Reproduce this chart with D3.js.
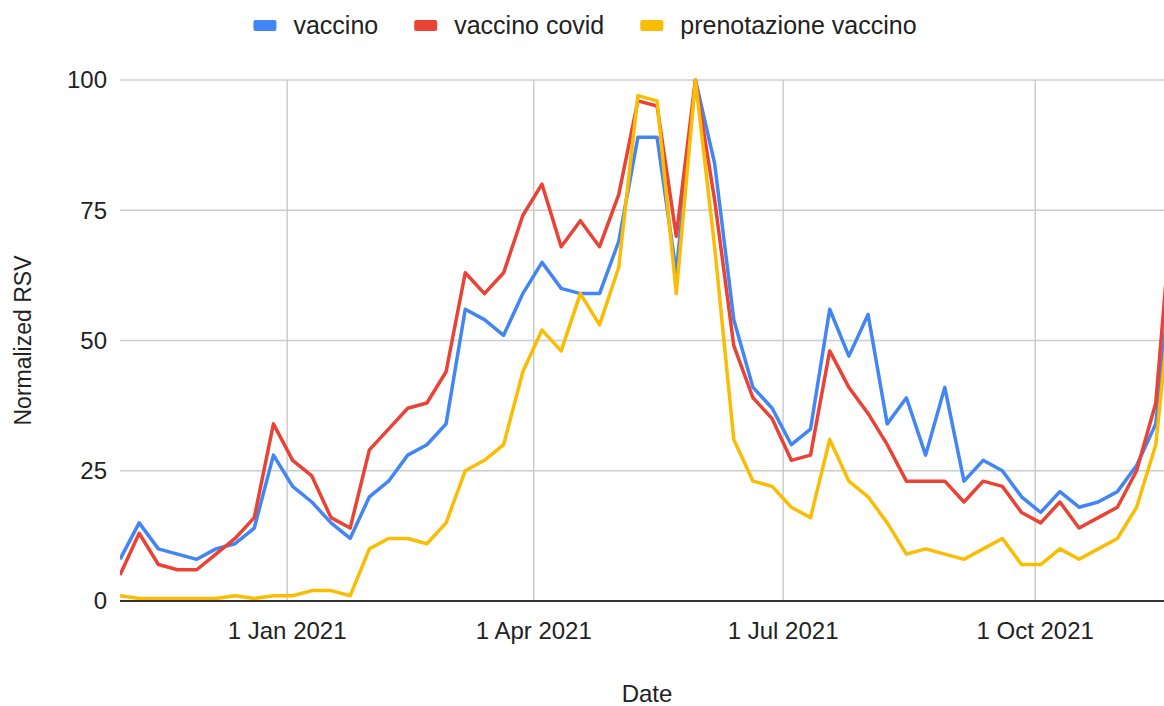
<!DOCTYPE html>
<html>
<head>
<meta charset="utf-8">
<script src="https://cdn.jsdelivr.net/npm/d3@7"></script>
<style>
  body { margin: 0; background: #fff; }
  svg { display: block; font-family: "Liberation Sans", Arial, sans-serif; }
</style>
</head>
<body>
<div id="chart"></div>
<script>
// weekly Google Trends series, first week starting 1 Nov 2020
var startWeek = "2020-11-01";

var vaccino = [8, 15, 10, 9, 8, 10, 11, 14, 28, 22, 19, 15, 12, 20, 23, 28, 30, 34, 56, 54,
  51, 59, 65, 60, 59, 59, 69, 89, 89, 63, 100, 84, 54, 41, 37, 30, 33, 56, 47, 55,
  34, 39, 28, 41, 23, 27, 25, 20, 17, 21, 18, 19, 21, 26, 34, 70];

var vaccinoCovid = [5, 13, 7, 6, 6, 9, 12, 16, 34, 27, 24, 16, 14, 29, 33, 37, 38, 44, 63, 59,
  63, 74, 80, 68, 73, 68, 78, 96, 95, 70, 100, 77, 49, 39, 35, 27, 28, 48, 41, 36,
  30, 23, 23, 23, 19, 23, 22, 17, 15, 19, 14, 16, 18, 25, 38, 82];

var prenotazione = [1, 0.5, 0.5, 0.5, 0.5, 0.5, 1, 0.5, 1, 1, 2, 2, 1, 10, 12, 12, 11, 15, 25, 27,
  30, 44, 52, 48, 59, 53, 64, 97, 96, 59, 100, 68, 31, 23, 22, 18, 16, 31, 23, 20,
  15, 9, 10, 9, 8, 10, 12, 7, 7, 10, 8, 10, 12, 18, 30, 66];

var seriesNames = ["vaccino", "vaccino covid", "prenotazione vaccino"];
var seriesColors = ["#4285f4", "#ea4335", "#fbbc04"];

var xTickDates = ["2021-01-01", "2021-04-01", "2021-07-01", "2021-10-01"];
var xTickLabels = ["1 Jan 2021", "1 Apr 2021", "1 Jul 2021", "1 Oct 2021"];
var yTicks = [0, 25, 50, 75, 100];

var w = 1164, h = 706;
var margin = { top: 80, right: 0, bottom: 105, left: 120 };

var parse = d3.utcParse("%Y-%m-%d");
var start = parse(startWeek);
var dates = vaccino.map(function(d, i) { return d3.utcDay.offset(start, 7 * i); });

var x = d3.scaleUtc()
  .domain([start, parse("2021-11-17")])
  .range([margin.left, w - margin.right]);

var y = d3.scaleLinear()
  .domain([0, 100])
  .range([h - margin.bottom, margin.top]);

var svg = d3.select("#chart").append("svg")
  .attr("width", w)
  .attr("height", h);

svg.append("clipPath").attr("id", "plot-clip")
  .append("rect")
  .attr("x", margin.left).attr("y", 0)
  .attr("width", w - margin.left - margin.right).attr("height", h);

// horizontal gridlines
svg.append("g")
  .selectAll("line")
  .data(yTicks.filter(function(d) { return d > 0; }))
  .enter().append("line")
  .attr("x1", margin.left).attr("x2", w - margin.right)
  .attr("y1", function(d) { return y(d); })
  .attr("y2", function(d) { return y(d); })
  .attr("stroke", "#cccccc")
  .attr("stroke-width", 1.5);

// vertical gridlines
svg.append("g")
  .selectAll("line")
  .data(xTickDates)
  .enter().append("line")
  .attr("x1", function(d) { return x(parse(d)); })
  .attr("x2", function(d) { return x(parse(d)); })
  .attr("y1", y(100)).attr("y2", y(0))
  .attr("stroke", "#cccccc")
  .attr("stroke-width", 1.5);

// y tick labels
svg.append("g")
  .selectAll("text")
  .data(yTicks)
  .enter().append("text")
  .attr("x", margin.left - 13)
  .attr("y", function(d) { return y(d); })
  .attr("dy", "0.35em")
  .attr("text-anchor", "end")
  .attr("font-size", 24)
  .attr("fill", "#222")
  .text(function(d) { return d; });

// x tick labels
svg.append("g")
  .selectAll("text")
  .data(xTickDates)
  .enter().append("text")
  .attr("x", function(d) { return x(parse(d)); })
  .attr("y", y(0) + 38)
  .attr("text-anchor", "middle")
  .attr("font-size", 24)
  .attr("fill", "#222")
  .text(function(d, i) { return xTickLabels[i]; });

// lines
var line = d3.line()
  .x(function(d, i) { return x(dates[i]); })
  .y(function(d) { return y(d); });

var plot = svg.append("g").attr("clip-path", "url(#plot-clip)");
[vaccino, vaccinoCovid, prenotazione].forEach(function(values, k) {
  plot.append("path")
    .datum(values)
    .attr("d", line)
    .attr("fill", "none")
    .attr("stroke", seriesColors[k])
    .attr("stroke-width", 3.5)
    .attr("stroke-linejoin", "round");
});

// baseline
svg.append("line")
  .attr("x1", margin.left).attr("x2", w - margin.right)
  .attr("y1", y(0)).attr("y2", y(0))
  .attr("stroke", "#333")
  .attr("stroke-width", 2);

// axis titles
svg.append("text")
  .attr("x", 647)
  .attr("y", 702)
  .attr("text-anchor", "middle")
  .attr("font-size", 24)
  .attr("fill", "#222")
  .text("Date");

svg.append("text")
  .attr("transform", "translate(31," + y(50) + ") rotate(-90)")
  .attr("text-anchor", "middle")
  .attr("font-size", 23)
  .attr("fill", "#222")
  .text("Normalized RSV");

// legend
var legend = svg.append("g");
var lx = 0;
seriesNames.forEach(function(name, k) {
  var item = legend.append("g").attr("transform", "translate(" + lx + ",0)");
  item.append("rect")
    .attr("x", 0).attr("y", 20)
    .attr("width", 23).attr("height", 11)
    .attr("rx", 2)
    .attr("fill", seriesColors[k]);
  var t = item.append("text")
    .attr("x", 40).attr("y", 34)
    .attr("font-size", 25)
    .attr("fill", "#222")
    .text(name);
  lx += 40 + t.node().getComputedTextLength() + 36;
});
var legendW = lx - 36;
legend.attr("transform", "translate(" + (585 - legendW / 2) + ",0)");
</script>
</body>
</html>
